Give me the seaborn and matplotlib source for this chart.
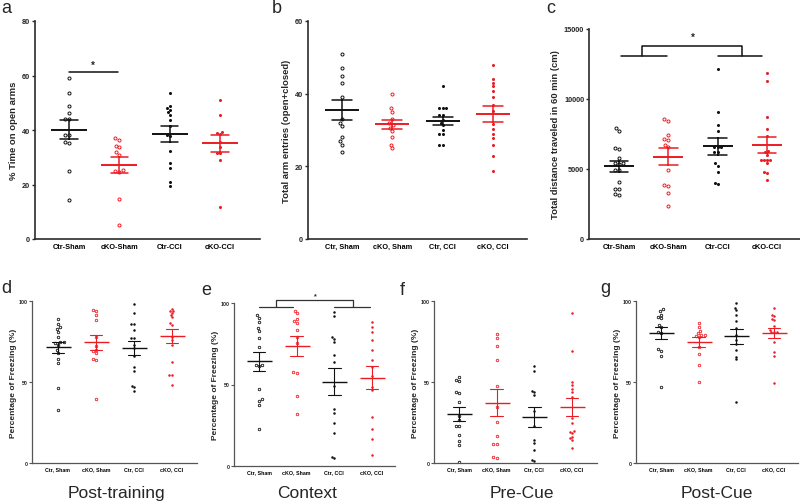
import numpy as np
import pandas as pd
import matplotlib
matplotlib.use("Agg")
import matplotlib.pyplot as plt
import seaborn as sns

sns.set_theme(style="ticks")
plt.rcParams["font.family"] = ["Liberation Sans", "DejaVu Sans"]

BLACK = "#111111"
RED = "#ec1c24"

# ---------------- data ----------------
dash_labels = ["Ctr-Sham", "cKO-Sham", "Ctr-CCI", "cKO-CCI"]
comma_labels = ["Ctr, Sham", "cKO, Sham", "Ctr, CCI", "cKO, CCI"]
group_colors = [BLACK, RED, BLACK, RED]
open_markers = [True, True, False, False]

# a: % time on open arms
a_ctr_sham = [59, 53.7, 48.7, 46.4, 44, 44, 38.2, 38, 35.1, 35.5, 24.8, 14.2]
a_cko_sham = [37, 36.5, 34.3, 33.6, 31.8, 30.8, 25.3, 24.8, 24.7, 14.7, 5.1]
a_ctr_cci = [53.7, 48.9, 48, 47.3, 46.5, 45.6, 43.7, 41.6, 38.2, 37.9, 32.4, 27.9, 25.9, 20.8, 19.3]
a_cko_cci = [51, 45.6, 39.1, 38.8, 38.4, 35.7, 33.6, 31.4, 31.4, 29, 11.9]

# b: total arm entries
b_ctr_sham = [51, 47, 45, 43, 39, 33, 32, 31, 28, 27, 26, 24]
b_cko_sham = [40, 36, 35, 33, 32, 31.4, 30.6, 29.7, 28, 26, 25]
b_ctr_cci = [42, 36, 36, 36, 34, 34, 32.8, 32, 31.3, 30, 29, 29, 26, 26]
b_cko_cci = [48, 44, 43, 42, 40.8, 39, 36.8, 35.1, 31.7, 30.3, 28.9, 27.8, 26, 22.9, 18.8]

# c: total distance traveled
c_ctr_sham = [7900, 7700, 6500, 6450, 5800, 5450, 5400, 5350, 4950, 4900, 4050, 3600, 3550, 3200, 3150]
c_cko_sham = [8560, 8440, 7460, 7130, 7100, 6750, 6550, 4960, 3890, 3820, 3310, 2360]
c_ctr_cci = [12140, 9100, 8170, 7710, 6550, 6550, 6550, 6190, 6190, 5400, 5240, 4810, 4000, 3930]
c_cko_cci = [11860, 11260, 8740, 7840, 7340, 6310, 6190, 6020, 5640, 5640, 5640, 5640, 5400, 4760, 4690, 4210]

# d: post-training freezing
d_ctr_sham = [89, 86, 84, 83, 81, 78, 75, 74.5, 74, 73, 70, 68, 64.5, 62, 46, 33]
d_cko_sham = [94.7, 94, 91.4, 88.3, 78, 72.4, 70, 68.9, 67.7, 64.2, 63.6, 39.5]
d_ctr_cci = [98, 92.8, 85.8, 85.8, 82, 77.4, 77, 73, 70.8, 66.3, 59, 57, 47.7, 46.7, 44.2]
d_cko_cci = [95.3, 94, 93.6, 92.6, 91.4, 90.1, 86.2, 85.2, 78, 75.9, 73, 62.3, 54.1, 54.1, 48.4]

# e: context freezing
e_ctr_sham = [92.6, 90.8, 88.5, 84.5, 82.6, 78.3, 73.2, 62.2, 61.8, 61.4, 47.2, 41.1, 40.1, 37.6, 22.7]
e_cko_sham = [95.3, 93.7, 90.2, 88.8, 87.5, 83.4, 78.9, 75.3, 57.9, 57.1, 43.1, 31.9]
e_ctr_cci = [94.3, 92, 78.9, 77.9, 76.3, 68.1, 64, 48.9, 35, 32.5, 26.2, 20.2, 4.7, 5.3]
e_cko_cci = [88.3, 85.3, 82.4, 77.3, 71.2, 65, 60.9, 55.2, 48.7, 46.6, 30.3, 22.9, 16.8, 6.5]

# f: pre-cue freezing
f_ctr_sham = [53.3, 51.2, 50.4, 44, 43.2, 37.9, 29.2, 26.5, 23, 23, 17.5, 13.8, 11.1, 0.4]
f_cko_sham = [79.6, 77.2, 72.4, 63.6, 47.3, 34.8, 25.1, 16.9, 11.9, 11.9, 3.9, 3.1]
f_ctr_cci = [60.1, 56.8, 44.7, 44, 42, 32.3, 23, 14.4, 12.3, 8, 2, 1.4]
f_cko_cci = [92.4, 69.3, 50.2, 48.1, 45.7, 43.6, 40.5, 27.8, 24.5, 19.5, 18.9, 18.3, 16.3, 15.5, 14.4, 9]

# g: post-cue freezing
g_ctr_sham = [95, 93.6, 91.6, 89.9, 89.3, 85.4, 83.7, 81, 80.5, 70.4, 69.3, 66.3, 46.7]
g_cko_sham = [86.2, 83.7, 81.7, 80, 79.2, 79, 78.5, 77.6, 71.4, 67.3, 60.7, 49.8]
g_ctr_cci = [98.6, 95.7, 94.4, 91.6, 87.9, 83.3, 79.2, 75.9, 73.5, 69.8, 65.6, 64, 37.9]
g_cko_cci = [95.5, 91.6, 90.9, 88.9, 88.3, 84.4, 82.1, 81, 81, 81, 74.9, 68.3, 66.3, 49.2]

freeze_label = "Percentage of Freezing (%)"

# ---------------- figure ----------------
W, H = 800, 502
fig = plt.figure(figsize=(W / 100, H / 100), dpi=100)
fig.patch.set_facecolor("white")


def panel(rect_px, labels, series, ylim, yticks, ylabel, xlim, big,
          mean_w, capsize):
    l, r, t, b = rect_px
    ax = fig.add_axes([l / W, 1 - b / H, (r - l) / W, (b - t) / H])
    df = pd.DataFrame({
        "group": np.repeat(labels, [len(s) for s in series]),
        "value": np.concatenate([np.asarray(s, float) for s in series]),
    })
    pal = dict(zip(labels, group_colors))
    msize = 2.2 if big else 1.8
    sns.swarmplot(data=df, x="group", y="value", hue="group", order=labels,
                  hue_order=labels, palette=pal, size=msize, ax=ax,
                  legend=False, linewidth=0, zorder=2, warn_thresh=1)
    for coll in ax.collections:
        offs = coll.get_offsets()
        if len(offs) == 0:
            continue
        i = int(round(float(np.mean(np.asarray(offs)[:, 0]))))
        c = group_colors[i]
        if open_markers[i]:
            coll.set_facecolor("white")
            coll.set_edgecolor(c)
            coll.set_linewidth(0.7 if big else 0.6)
        else:
            coll.set_facecolor(c)
            coll.set_edgecolor(c)
            coll.set_linewidth(0)
    sns.pointplot(data=df, x="group", y="value", hue="group", order=labels,
                  hue_order=labels, palette=pal, errorbar="se",
                  capsize=capsize, marker="_", markersize=mean_w,
                  markeredgewidth=1.4 if big else 1.0, linestyle="none",
                  linewidth=1.0 if big else 0.8,
                  err_kws={"linewidth": 1.1 if big else 0.8},
                  ax=ax, legend=False, dodge=False, zorder=3)
    ax.set_xlim(*xlim)
    ax.set_ylim(*ylim)
    ax.set_yticks(yticks)
    ax.set_xlabel("")
    sns.despine(ax=ax)
    spine_c = "#2b2b2b" if big else "#555555"
    for s in ("left", "bottom"):
        ax.spines[s].set_color(spine_c)
        ax.spines[s].set_linewidth(1.2 if big else 0.9)
    tfs = 5.3 if big else 3.8
    ax.tick_params(axis="x", length=0, labelsize=tfs, pad=3 if big else 2,
                   colors="black")
    ax.tick_params(axis="y", length=2.5 if big else 2, width=1 if big else 0.8,
                   labelsize=tfs, pad=1, color=spine_c)
    for lab in ax.get_xticklabels() + ax.get_yticklabels():
        lab.set_fontweight("bold")
    ax.set_ylabel(ylabel, fontsize=6.8 if big else 6, fontweight="bold",
                  labelpad=3 if big else 1.5)
    ax.set_facecolor("white")
    return ax


# a
ax_a = panel((35, 260, 22, 240), dash_labels,
             [a_ctr_sham, a_cko_sham, a_ctr_cci, a_cko_cci],
             (0, 80), [0, 20, 40, 60, 80], "% Time on open arms",
             (-0.675, 3.795), True, 26, 0.34)
ax_a.plot([0, 0.98], [61.3, 61.3], color=BLACK, lw=1.1, clip_on=False)
ax_a.text(0.48, 62.2, "*", ha="center", va="bottom", fontsize=7, fontweight="bold")

# b
panel((308, 527, 22, 240), comma_labels,
      [b_ctr_sham, b_cko_sham, b_ctr_cci, b_cko_cci],
      (0, 60), [0, 20, 40, 60], "Total arm entries (open+closed)",
      (-0.675, 3.675), True, 24, 0.4)

# c
ax_c = panel((589, 800, 30, 240), dash_labels,
             [c_ctr_sham, c_cko_sham, c_ctr_cci, c_cko_cci],
             (0, 15000), [0, 5000, 10000, 15000],
             "Total distance traveled in 60 min (cm)",
             (-0.608, 3.669), True, 22, 0.38)
ax_c.plot([0.05, 0.97], [13070, 13070], color=BLACK, lw=1.1, clip_on=False)
ax_c.plot([2.0, 2.9], [13070, 13070], color=BLACK, lw=1.1, clip_on=False)
ax_c.plot([0.46, 0.46, 2.5, 2.5], [13070, 13760, 13760, 13070], color=BLACK,
          lw=1.1, clip_on=False)
ax_c.text(1.5, 14050, "*", ha="center", va="bottom", fontsize=7, fontweight="bold")

# d
panel((32, 197, 302, 464), comma_labels,
      [d_ctr_sham, d_cko_sham, d_ctr_cci, d_cko_cci],
      (0, 100), [0, 50, 100], freeze_label, (-0.684, 3.658), False, 18, 0.33)

# e
ax_e = panel((234, 395, 304, 467), comma_labels,
             [e_ctr_sham, e_cko_sham, e_ctr_cci, e_cko_cci],
             (0, 100), [0, 50, 100], freeze_label, (-0.664, 3.61), False, 18, 0.33)
ax_e.plot([0, 0.9], [97.4, 97.4], color="#333333", lw=0.9, clip_on=False)
ax_e.plot([2.0, 2.95], [97.4, 97.4], color="#333333", lw=0.9, clip_on=False)
ax_e.plot([0.45, 0.45, 2.5, 2.5], [97.4, 102, 102, 97.4], color="#333333",
          lw=0.9, clip_on=False)
ax_e.text(1.5, 102.3, "*", ha="center", va="bottom", fontsize=5, fontweight="bold")

# f
panel((434, 597, 302, 464), comma_labels,
      [f_ctr_sham, f_cko_sham, f_ctr_cci, f_cko_cci],
      (0, 100), [0, 50, 100], freeze_label, (-0.664, 3.663), False, 18, 0.33)

# g
panel((636, 798, 302, 464), comma_labels,
      [g_ctr_sham, g_cko_sham, g_ctr_cci, g_cko_cci],
      (0, 100), [0, 50, 100], freeze_label, (-0.664, 3.637), False, 18, 0.33)

# panel letters
for letter, x, y in [("a", 1, 13), ("b", 272, 13), ("c", 546, 13),
                     ("d", 1, 293), ("e", 201, 295), ("f", 400, 295),
                     ("g", 600, 293)]:
    fig.text(x / W, 1 - y / H, letter, fontsize=13, ha="left", va="baseline")

# bottom titles
for title, x in [("Post-training", 116), ("Context", 307), ("Pre-Cue", 522),
                 ("Post-Cue", 717)]:
    fig.text(x / W, 1 - 498 / H, title, fontsize=12.5, ha="center", va="baseline")

fig.savefig("out.png", dpi=100, facecolor="white")
